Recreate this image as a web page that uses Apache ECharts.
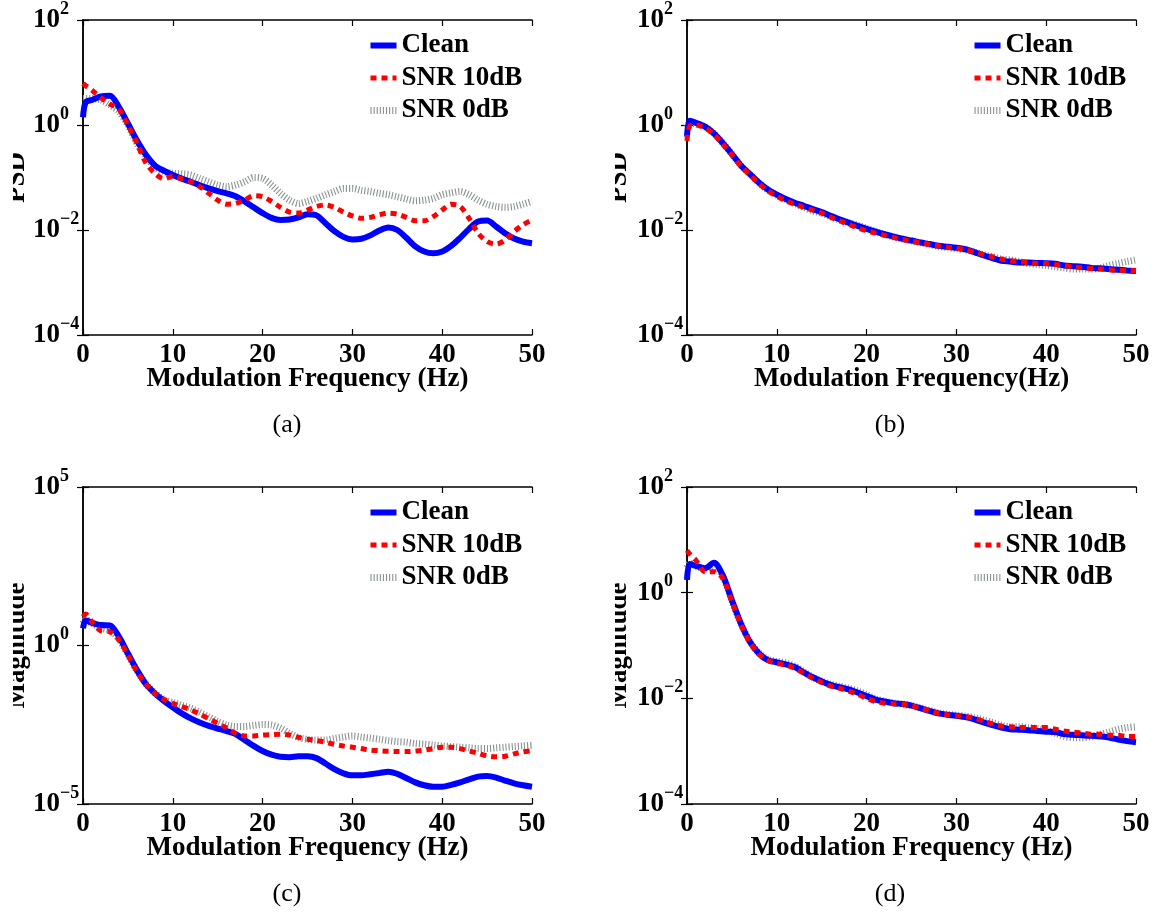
<!DOCTYPE html>
<html>
<head>
<meta charset="utf-8">
<script src="https://cdn.jsdelivr.net/npm/echarts@6/dist/echarts.min.js"></script>
<style>
  html, body { margin: 0; background: #fff; }
  #main { width: 1160px; height: 917px; }
</style>
</head>
<body>
<div id="main"></div>
<script>
// modulation frequency (Hz), shared by all panels
var freq = [0, 0.3, 1, 2, 3, 4, 5, 6, 7, 8, 9,
  10, 11, 12, 13, 14, 15, 16, 17, 18, 19,
  20, 21, 22, 23, 24, 25, 26, 27, 28, 29,
  30, 31, 32, 33, 34, 35, 36, 37, 38, 39,
  40, 41, 42, 43, 44, 45, 46, 47, 48, 49,
  50];

var seriesNames = ['Clean', 'SNR 10dB', 'SNR 0dB'];

// (a) PSD
var psdCleanA = [1.4, 2.7, 3.0, 3.5, 3.6, 2.2, 1.07, 0.51, 0.27, 0.17, 0.135,
  0.112, 0.095, 0.083, 0.071, 0.062, 0.055, 0.050, 0.044, 0.035, 0.027,
  0.021, 0.017, 0.0155, 0.0158, 0.0174, 0.020, 0.019, 0.0135, 0.0095, 0.0074,
  0.0066, 0.0068, 0.0079, 0.0098, 0.0112, 0.010, 0.0071, 0.0049, 0.0039, 0.0036,
  0.0039, 0.005, 0.0071, 0.0105, 0.0145, 0.0151, 0.0117, 0.0087, 0.0069, 0.006,
  0.0056];
var psdSnr10A = [6.2, 5.6, 4.6, 3.3, 2.5, 2.0, 1.0, 0.45, 0.19, 0.12, 0.095,
  0.105, 0.095, 0.083, 0.067, 0.050, 0.037, 0.031, 0.032, 0.037, 0.045,
  0.043, 0.035, 0.027, 0.022, 0.021, 0.024, 0.028, 0.030, 0.027, 0.022,
  0.0185, 0.0167, 0.0174, 0.0195, 0.021, 0.020, 0.0174, 0.015, 0.015, 0.018,
  0.024, 0.031, 0.028, 0.0167, 0.0087, 0.006, 0.0054, 0.0064, 0.0093, 0.0126,
  0.0155];
var psdSnr0A = [3.2, 3.2, 3.2, 3.0, 2.4, 1.8, 1.0, 0.45, 0.25, 0.16, 0.13,
  0.12, 0.118, 0.112, 0.096, 0.083, 0.072, 0.067, 0.072, 0.083, 0.1,
  0.096, 0.072, 0.050, 0.037, 0.032, 0.035, 0.040, 0.047, 0.054, 0.062,
  0.062, 0.057, 0.054, 0.050, 0.047, 0.043, 0.039, 0.036, 0.037, 0.040,
  0.047, 0.051, 0.054, 0.047, 0.037, 0.031, 0.028, 0.027, 0.028, 0.031,
  0.035];

// (b) PSD
var psdCleanB = [0.6, 1.2, 1.1, 0.93, 0.69, 0.45, 0.28, 0.17, 0.117, 0.080, 0.059,
  0.047, 0.039, 0.033, 0.029, 0.025, 0.022, 0.0186, 0.016, 0.0138, 0.012,
  0.0105, 0.0093, 0.0083, 0.0075, 0.0068, 0.0063, 0.0058, 0.0054, 0.0050, 0.0048,
  0.0046, 0.0043, 0.0038, 0.0033, 0.0029, 0.0026, 0.0025, 0.0024, 0.0024, 0.00235,
  0.00233, 0.00227, 0.0021, 0.00205, 0.0020, 0.0019, 0.00186, 0.0018, 0.00175, 0.0017,
  0.00166];
var psdSnr10B = [0.5, 0.95, 1.0, 0.88, 0.66, 0.43, 0.27, 0.165, 0.112, 0.077, 0.056,
  0.044, 0.036, 0.031, 0.027, 0.024, 0.021, 0.0175, 0.015, 0.0128, 0.011,
  0.0097, 0.0087, 0.0079, 0.0072, 0.0066, 0.0061, 0.0057, 0.0053, 0.0050, 0.0047,
  0.0045, 0.0042, 0.0038, 0.0034, 0.0031, 0.0028, 0.0026, 0.0025, 0.0024, 0.0023,
  0.0023, 0.0022, 0.0021, 0.0020, 0.0019, 0.00185, 0.0018, 0.00175, 0.0017, 0.0017,
  0.00168];
var psdSnr0B = [0.9, 1.1, 1.05, 0.92, 0.69, 0.45, 0.28, 0.17, 0.115, 0.079, 0.058,
  0.046, 0.038, 0.032, 0.027, 0.023, 0.021, 0.0178, 0.0155, 0.0138, 0.0125,
  0.0108, 0.0094, 0.0082, 0.0074, 0.0067, 0.0062, 0.0057, 0.0053, 0.0049, 0.0046,
  0.0044, 0.0042, 0.0038, 0.0034, 0.0031, 0.0028, 0.0027, 0.0025, 0.0023, 0.0022,
  0.0021, 0.0020, 0.0019, 0.0018, 0.0018, 0.0018, 0.0019, 0.0021, 0.0023, 0.0025,
  0.0027];

// (c) Magnitude
var magCleanC = [3.5, 6.3, 5.2, 4.4, 4.3, 1.9, 0.56, 0.17, 0.061, 0.031, 0.018,
  0.0112, 0.0072, 0.0050, 0.0037, 0.0029, 0.0024, 0.0020, 0.0016, 0.00105, 6.8e-4,
  4.7e-4, 3.6e-4, 3.1e-4, 3.0e-4, 3.2e-4, 3.2e-4, 2.8e-4, 1.9e-4, 1.26e-4, 9.3e-5,
  8.0e-5, 8.0e-5, 8.7e-5, 9.5e-5, 1.05e-4, 8.9e-5, 6.6e-5, 4.8e-5, 3.9e-5, 3.5e-5,
  3.5e-5, 4.0e-5, 4.8e-5, 6.0e-5, 7.3e-5, 7.6e-5, 6.8e-5, 5.5e-5, 4.5e-5, 3.9e-5,
  3.5e-5];
var magSnr10C = [8.1, 9.8, 5.6, 2.9, 2.7, 1.5, 0.50, 0.15, 0.061, 0.031, 0.020,
  0.015, 0.0118, 0.0093, 0.0069, 0.0049, 0.0035, 0.0025, 0.0017, 0.0014, 0.0014,
  0.0015, 0.00155, 0.0016, 0.0015, 0.00126, 0.0011, 0.001, 8.9e-4, 7.6e-4, 6.8e-4,
  6.2e-4, 5.6e-4, 5.0e-4, 4.8e-4, 4.6e-4, 4.5e-4, 4.5e-4, 4.7e-4, 5.0e-4, 5.6e-4,
  6.2e-4, 6.2e-4, 5.6e-4, 4.7e-4, 4.0e-4, 3.3e-4, 3.1e-4, 3.2e-4, 3.8e-4, 4.4e-4,
  4.8e-4];
var magSnr0C = [5.0, 6.5, 5.0, 3.5, 3.0, 1.6, 0.52, 0.16, 0.062, 0.032, 0.02,
  0.016, 0.013, 0.0105, 0.0078, 0.0056, 0.004, 0.0031, 0.0028, 0.0028, 0.003,
  0.0032, 0.0031, 0.0025, 0.0017, 0.00126, 0.0011, 0.00105, 0.00105, 0.00117, 0.0013,
  0.0014, 0.0013, 0.0012, 0.0011, 0.001, 9.3e-4, 8.9e-4, 8.1e-4, 7.8e-4, 7.2e-4,
  6.8e-4, 6.5e-4, 6.2e-4, 5.9e-4, 5.6e-4, 5.6e-4, 5.9e-4, 6.2e-4, 6.5e-4, 6.8e-4,
  7.1e-4];

// (d) Magnitude
var magCleanD = [1.74, 3.5, 3.2, 2.9, 3.7, 2.1, 0.72, 0.26, 0.118, 0.071, 0.053,
  0.048, 0.044, 0.039, 0.031, 0.025, 0.021, 0.018, 0.0162, 0.0148, 0.0129,
  0.011, 0.0095, 0.0087, 0.0081, 0.0078, 0.0073, 0.0065, 0.0058, 0.0052, 0.0049,
  0.0047, 0.0044, 0.0040, 0.0035, 0.0031, 0.0028, 0.0026, 0.00255, 0.0025, 0.0024,
  0.00234, 0.0023, 0.0021, 0.00204, 0.002, 0.00196, 0.0019, 0.00182, 0.00166, 0.00155,
  0.00148];
var magSnr10D = [6.3, 5.4, 4.1, 2.5, 2.5, 1.86, 0.68, 0.25, 0.115, 0.068, 0.052,
  0.046, 0.043, 0.037, 0.030, 0.024, 0.020, 0.017, 0.0155, 0.0137, 0.012,
  0.0099, 0.0087, 0.0081, 0.0079, 0.0077, 0.0072, 0.0065, 0.0058, 0.0052, 0.0049,
  0.0047, 0.0045, 0.0042, 0.0037, 0.0033, 0.0030, 0.0029, 0.0028, 0.0028, 0.0028,
  0.0028, 0.0026, 0.0024, 0.0023, 0.0022, 0.0021, 0.0021, 0.0020, 0.0020, 0.0019,
  0.0019];
var magSnr0D = [3.0, 3.6, 3.2, 2.8, 3.2, 2.0, 0.70, 0.26, 0.12, 0.073, 0.055,
  0.050, 0.047, 0.041, 0.032, 0.025, 0.021, 0.0185, 0.017, 0.0155, 0.0138,
  0.0118, 0.0098, 0.0088, 0.0082, 0.0078, 0.0073, 0.0066, 0.0059, 0.0053, 0.0050,
  0.0048, 0.0046, 0.0043, 0.0039, 0.0035, 0.0031, 0.0029, 0.0029, 0.0028, 0.0027,
  0.0025, 0.0022, 0.0019, 0.0018, 0.0018, 0.0019, 0.0021, 0.0023, 0.0026, 0.0028,
  0.0029];

var FONT = '"Liberation Serif", "Times New Roman", serif';

var panels = [
  { left: 83, top: 20, height: 315, min: 1e-4, max: 1e2, base: 100,
    data: [psdCleanA, psdSnr10A, psdSnr0A], xName: 'Modulation Frequency (Hz)',
    yName: 'PSD', caption: '(a)' },
  { left: 687, top: 20, height: 315, min: 1e-4, max: 1e2, base: 100,
    data: [psdCleanB, psdSnr10B, psdSnr0B], xName: 'Modulation Frequency(Hz)',
    yName: 'PSD', caption: '(b)' },
  { left: 83, top: 487, height: 317, min: 1e-5, max: 1e5, base: 100000,
    data: [magCleanC, magSnr10C, magSnr0C], xName: 'Modulation Frequency (Hz)',
    yName: 'Magnitude', caption: '(c)' },
  { left: 687, top: 487, height: 317, min: 1e-4, max: 1e2, base: 100,
    data: [magCleanD, magSnr10D, magSnr0D], xName: 'Modulation Frequency (Hz)',
    yName: 'Magnitude', caption: '(d)' }
];

var lineStyles = [
  { color: '#0000ff', width: 6, type: 'solid' },
  { color: '#ff0000', width: 5, type: [6, 5] },
  { color: '#8a9292', width: 7, type: [1.1, 2] }
];
var seriesZ = [3, 4, 2];

function logLabel(v) {
  var e = Math.round(Math.log10(v));
  return '{b|10}{s|' + (e < 0 ? '\u2212' + (-e) : e) + '}';
}

var labelRich = {
  b: { fontFamily: FONT, fontWeight: 'bold', fontSize: 27, lineHeight: 30, verticalAlign: 'middle', color: '#000' },
  s: { fontFamily: FONT, fontWeight: 'bold', fontSize: 18, lineHeight: 18, padding: [0, 0, 22, 0], color: '#000' }
};

var axisLine = { show: true, lineStyle: { color: '#000', width: 1.5 } };
var tick = { show: true, inside: true, length: 6, lineStyle: { color: '#000', width: 1.2 } };

var grids = [], xAxes = [], yAxes = [], series = [], legends = [], graphics = [];

panels.forEach(function (p, i) {
  grids.push({ left: p.left, top: p.top, width: 449, height: p.height, outerBoundsMode: 'none' });
  xAxes.push({
    gridIndex: i, type: 'value', min: 0, max: 50, interval: 10, position: 'bottom',
    axisLine: axisLine, axisTick: tick, splitLine: { show: false },
    axisLabel: { margin: 7, fontFamily: FONT, fontWeight: 'bold', fontSize: 27, color: '#000' },
    name: p.xName, nameLocation: 'middle', nameGap: 31, nameMoveOverlap: false,
    nameTextStyle: { fontFamily: FONT, fontWeight: 'bold', fontSize: 27, color: '#000' }
  });
  xAxes.push({
    gridIndex: i, type: 'value', min: 0, max: 50, interval: 10, position: 'top',
    axisLine: axisLine, axisTick: tick, splitLine: { show: false }, axisLabel: { show: false }
  });
  yAxes.push({
    gridIndex: i, type: 'log', logBase: p.base, min: p.min, max: p.max, position: 'left',
    axisLine: axisLine, axisTick: tick, splitLine: { show: false },
    axisLabel: { margin: 50, align: 'left', formatter: logLabel, rich: labelRich }
  });
  yAxes.push({
    gridIndex: i, type: 'log', logBase: p.base, min: p.min, max: p.max, position: 'right',
    axisLine: axisLine, axisTick: tick, splitLine: { show: false }, axisLabel: { show: false }
  });

  [2, 0, 1].forEach(function (k) {
    series.push({
      name: seriesNames[k], type: 'line', xAxisIndex: 2 * i, yAxisIndex: 2 * i,
      data: freq.map(function (f, j) { return [f, p.data[k][j]]; }),
      showSymbol: false, symbol: 'none', smooth: 0.3, z: seriesZ[k],
      lineStyle: lineStyles[k], itemStyle: { color: lineStyles[k].color }
    });
  });

  legends.push({
    data: seriesNames.map(function (n, k) {
      return { name: n, lineStyle: { width: lineStyles[k].width, type: lineStyles[k].type, color: lineStyles[k].color } };
    }),
    orient: 'vertical', left: p.left + 284, top: p.top + 12,
    itemWidth: 26, itemHeight: 14, itemGap: 5.5, padding: 0, selectedMode: false,
    itemStyle: { opacity: 0 },
    textStyle: { fontFamily: FONT, fontWeight: 'bold', fontSize: 27, lineHeight: 27, color: '#000' }
  });

  var rightCol = p.left > 500;
  var midY = p.top + p.height / 2;
  graphics.push({
    type: 'text', x: rightCol ? 633 : 31, y: midY, rotation: Math.PI / 2, z: 10,
    style: { text: p.yName, fontFamily: FONT, fontWeight: 'bold', fontSize: 27,
      fill: '#000', align: 'center', verticalAlign: 'bottom' }
  });
  graphics.push({
    type: 'rect', z: 11,
    shape: { x: rightCol ? 560 : 0, y: midY - 90, width: rightCol ? 55 : 13, height: 180 },
    style: { fill: '#fff' }
  });
  graphics.push({
    type: 'text', x: rightCol ? 890 : 287, y: p.top + p.height + 90, z: 10,
    style: { text: p.caption, fontFamily: FONT, fontSize: 26, fill: '#000',
      align: 'center', verticalAlign: 'middle' }
  });
});

var chart = echarts.init(document.getElementById('main'));
chart.setOption({
  backgroundColor: '#fff',
  animation: false,
  grid: grids,
  xAxis: xAxes,
  yAxis: yAxes,
  legend: legends,
  series: series,
  graphic: graphics
});
</script>
</body>
</html>
